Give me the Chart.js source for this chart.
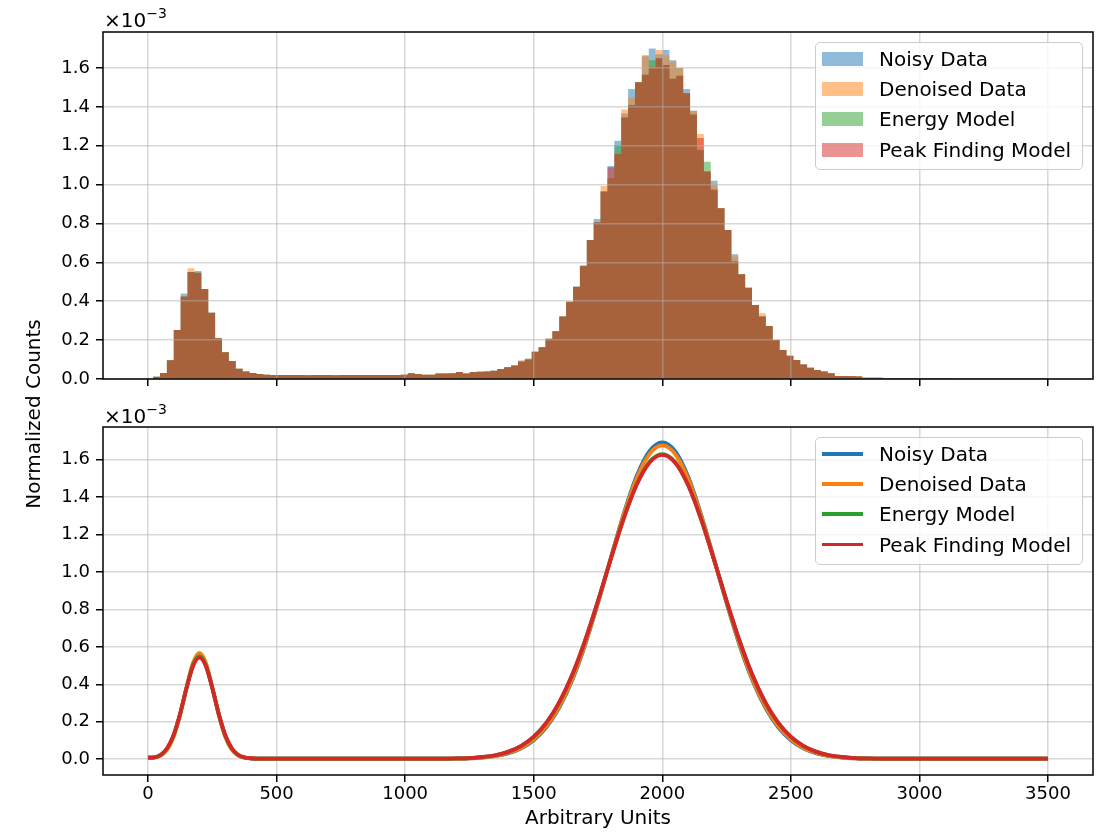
<!DOCTYPE html>
<html>
<head>
<meta charset="utf-8">
<script src="https://cdn.jsdelivr.net/npm/chart.js@4.4.1/dist/chart.umd.min.js"></script>
<style>
html,body{margin:0;padding:0;background:#fff;}
body{width:1100px;height:833px;position:relative;overflow:hidden;font-family:"DejaVu Sans",sans-serif;color:#000;}
.wrap{position:absolute;left:0;width:1100px;}
.legend{position:absolute;left:815px;width:268px;height:128px;box-sizing:border-box;border:1px solid #cccccc;border-radius:5px;background:rgba(255,255,255,0.8);}
.lg-item{position:absolute;left:0;width:266px;height:20px;}
.lg-patch{position:absolute;left:6px;top:3px;width:41px;height:14px;}
.lg-line{position:absolute;left:6px;top:8.1px;width:41px;height:3.8px;}
.lg-text{position:absolute;left:63px;top:0;font-size:20px;line-height:20px;white-space:nowrap;}
.offset{position:absolute;left:104px;font-size:20px;line-height:20px;white-space:nowrap;}
.offset .sup{font-size:14px;line-height:0;position:relative;top:-8.5px;}
.ylabel{position:absolute;left:-117px;top:404px;width:300px;height:20px;font-size:20px;line-height:20px;text-align:center;transform:rotate(-90deg);transform-origin:150px 10px;white-space:nowrap;}
.xlabel{position:absolute;left:448px;top:807px;width:300px;height:20px;font-size:20px;line-height:20px;text-align:center;white-space:nowrap;}
</style>
</head>
<body>
<div class="wrap" style="top:0;height:400px;"><canvas id="c1" width="1100" height="400"></canvas></div>
<div class="wrap" style="top:400px;height:433px;"><canvas id="c2" width="1100" height="433"></canvas></div>
<div class="offset" style="top:9.8px;">×10<span class="sup">−3</span></div>
<div class="offset" style="top:405.8px;">×10<span class="sup">−3</span></div>
<div class="ylabel">Normalized Counts</div>
<div class="xlabel">Arbitrary Units</div>
<div class="legend" id="lg1" style="top:42px;"></div>
<div class="legend" id="lg2" style="top:437px;"></div>
<script>
// ---------------- data (values in units of 1e-3) ----------------
const seriesNames = ['Noisy Data', 'Denoised Data', 'Energy Model', 'Peak Finding Model'];
const seriesColors = [[31,119,180], [255,127,14], [44,160,44], [214,39,40]];
const xTicks = [0, 500, 1000, 1500, 2000, 2500, 3000, 3500];
const yTicks = [0.0, 0.2, 0.4, 0.6, 0.8, 1.0, 1.2, 1.4, 1.6];
const yExponent = -3;
const binStart = 20;
const binWidth = 26.77;

const histNoisy = [
 0.012,0.031,0.096,0.252,0.440,0.550,0.556,0.463,0.341,0.209,
 0.137,0.093,0.053,0.038,0.031,0.026,0.022,0.021,0.020,0.020,
 0.020,0.020,0.019,0.020,0.020,0.020,0.019,0.020,0.020,0.021,
 0.020,0.020,0.021,0.020,0.021,0.021,0.022,0.029,0.026,0.022,
 0.022,0.028,0.028,0.029,0.036,0.028,0.036,0.037,0.038,0.043,
 0.052,0.060,0.070,0.089,0.100,0.140,0.163,0.207,0.245,0.321,
 0.398,0.475,0.581,0.715,0.823,0.964,1.096,1.225,1.366,1.492,
 1.527,1.660,1.700,1.670,1.693,1.640,1.600,1.492,1.380,1.178,
 1.067,1.020,0.878,0.767,0.642,0.539,0.470,0.381,0.321,0.273,
 0.201,0.149,0.120,0.098,0.075,0.058,0.046,0.039,0.029,0.016,
 0.015,0.014,0.013,0.007,0.006,0.006,0.005,0.005,0.005,0.005,
 0.004,0.004,0.004,0.004,0.004,0.004,0.003,0.003,0.003,0.003,
 0.003,0.003,0.003,0.003,0.003,0.003,0.003,0.003,0.003,0.003];
const histDenoised = [
 0.012,0.031,0.096,0.252,0.425,0.570,0.547,0.463,0.341,0.209,
 0.137,0.093,0.053,0.038,0.031,0.026,0.022,0.021,0.020,0.020,
 0.020,0.020,0.019,0.020,0.020,0.020,0.019,0.020,0.020,0.021,
 0.020,0.020,0.021,0.020,0.021,0.021,0.022,0.029,0.026,0.022,
 0.022,0.028,0.028,0.029,0.036,0.028,0.036,0.037,0.038,0.043,
 0.052,0.060,0.070,0.089,0.100,0.140,0.163,0.207,0.245,0.321,
 0.398,0.475,0.587,0.715,0.806,0.993,1.033,1.158,1.386,1.448,
 1.527,1.667,1.610,1.693,1.665,1.630,1.600,1.470,1.380,1.260,
 1.067,1.000,0.878,0.767,0.630,0.539,0.470,0.381,0.338,0.273,
 0.201,0.149,0.120,0.098,0.075,0.058,0.046,0.039,0.029,0.016,
 0.015,0.016,0.015,0.007,0.006,0.006,0.005,0.005,0.005,0.005,
 0.004,0.004,0.004,0.004,0.004,0.004,0.003,0.003,0.003,0.003,
 0.003,0.003,0.003,0.003,0.003,0.003,0.003,0.003,0.003,0.003];
const histEnergy = [
 0.012,0.031,0.096,0.252,0.425,0.550,0.547,0.463,0.341,0.209,
 0.137,0.093,0.053,0.038,0.031,0.026,0.022,0.021,0.020,0.020,
 0.020,0.020,0.019,0.020,0.020,0.020,0.019,0.020,0.020,0.021,
 0.020,0.020,0.021,0.020,0.021,0.021,0.022,0.029,0.026,0.022,
 0.022,0.028,0.028,0.029,0.036,0.028,0.036,0.037,0.038,0.043,
 0.052,0.060,0.070,0.089,0.105,0.140,0.163,0.207,0.245,0.321,
 0.398,0.475,0.581,0.715,0.806,0.964,1.033,1.204,1.345,1.410,
 1.527,1.565,1.640,1.650,1.615,1.545,1.560,1.470,1.360,1.178,
 1.118,0.974,0.878,0.767,0.604,0.539,0.470,0.381,0.321,0.273,
 0.201,0.149,0.120,0.098,0.075,0.058,0.046,0.039,0.029,0.016,
 0.015,0.014,0.013,0.007,0.006,0.006,0.005,0.005,0.005,0.005,
 0.004,0.004,0.004,0.004,0.004,0.004,0.003,0.003,0.003,0.003,
 0.003,0.003,0.003,0.003,0.003,0.003,0.003,0.003,0.003,0.003];
const histPeak = [
 0.012,0.031,0.096,0.252,0.425,0.550,0.547,0.463,0.341,0.209,
 0.137,0.093,0.053,0.038,0.031,0.026,0.022,0.021,0.020,0.020,
 0.020,0.020,0.019,0.020,0.020,0.020,0.019,0.020,0.020,0.021,
 0.020,0.020,0.021,0.020,0.021,0.021,0.022,0.029,0.026,0.022,
 0.022,0.028,0.028,0.029,0.036,0.028,0.036,0.037,0.038,0.043,
 0.052,0.060,0.070,0.095,0.100,0.140,0.163,0.207,0.245,0.321,
 0.398,0.475,0.581,0.715,0.806,0.964,1.089,1.158,1.345,1.410,
 1.527,1.565,1.600,1.650,1.615,1.545,1.560,1.470,1.360,1.240,
 1.067,0.974,0.878,0.767,0.604,0.539,0.470,0.381,0.321,0.273,
 0.201,0.149,0.120,0.098,0.075,0.058,0.046,0.039,0.029,0.016,
 0.015,0.016,0.013,0.007,0.006,0.006,0.005,0.005,0.005,0.005,
 0.004,0.004,0.004,0.004,0.004,0.004,0.003,0.003,0.003,0.003,
 0.003,0.003,0.003,0.003,0.003,0.003,0.003,0.003,0.003,0.003];

const curveX = [
 0,25,50,75,100,125,150,175,200,225,250,275,300,325,350,375,400,425,450,475,500,
 550,600,650,700,750,800,850,900,950,1000,1050,1100,1150,
 1200,1250,1300,1350,1400,1450,1500,1550,1600,1650,1700,1750,1800,1850,1900,1950,2000,
 2050,2100,2150,2200,2250,2300,2350,2400,2450,2500,2550,2600,2650,2700,2750,2800,
 2850,2900,2950,3000,3050,3100,3150,3200,3250,3300,3350,3400,3450,3500];
const curveNoisy = [
 0.008,0.010,0.022,0.057,0.127,0.241,0.382,0.504,0.553,0.504,0.382,0.241,0.127,0.057,0.022,0.009,0.004,0.003,0.003,0.003,0.003,
 0.003,0.003,0.003,0.003,0.003,0.003,0.003,0.003,0.003,0.003,0.003,0.003,0.003,
 0.003,0.005,0.009,0.016,0.031,0.057,0.101,0.172,0.277,0.423,0.611,0.834,1.076,1.311,1.511,1.645,1.692,
 1.645,1.511,1.311,1.076,0.834,0.611,0.423,0.277,0.172,0.101,0.057,0.031,0.016,0.009,0.005,0.003,
 0.003,0.003,0.003,0.003,0.003,0.003,0.003,0.003,0.003,0.003,0.003,0.003,0.003,0.003];
const curveDenoised = [
 0.008,0.009,0.020,0.052,0.121,0.237,0.385,0.515,0.568,0.515,0.385,0.237,0.121,0.052,0.020,0.008,0.004,0.003,0.003,0.003,0.003,
 0.003,0.003,0.003,0.003,0.003,0.003,0.003,0.003,0.003,0.003,0.003,0.003,0.003,
 0.003,0.005,0.009,0.017,0.033,0.060,0.106,0.178,0.284,0.430,0.617,0.837,1.075,1.305,1.500,1.630,1.676,
 1.630,1.500,1.305,1.075,0.837,0.617,0.430,0.284,0.178,0.106,0.060,0.033,0.017,0.009,0.005,0.003,
 0.003,0.003,0.003,0.003,0.003,0.003,0.003,0.003,0.003,0.003,0.003,0.003,0.003,0.003];
const curveEnergy = [
 0.008,0.010,0.023,0.058,0.128,0.242,0.382,0.503,0.551,0.503,0.382,0.242,0.128,0.058,0.023,0.009,0.004,0.003,0.003,0.003,0.003,
 0.003,0.003,0.003,0.003,0.003,0.003,0.003,0.003,0.003,0.003,0.003,0.003,0.003,
 0.004,0.006,0.011,0.021,0.039,0.070,0.119,0.195,0.304,0.451,0.634,0.846,1.071,1.287,1.467,1.588,1.630,
 1.588,1.467,1.287,1.071,0.846,0.634,0.451,0.304,0.195,0.119,0.070,0.039,0.021,0.011,0.006,0.004,
 0.003,0.003,0.003,0.003,0.003,0.003,0.003,0.003,0.003,0.003,0.003,0.003,0.003,0.003];
const curvePeak = [
 0.008,0.010,0.024,0.060,0.131,0.244,0.380,0.497,0.543,0.497,0.380,0.244,0.131,0.060,0.024,0.010,0.005,0.003,0.003,0.003,0.003,
 0.003,0.003,0.003,0.003,0.003,0.003,0.003,0.003,0.003,0.003,0.003,0.003,0.003,
 0.004,0.006,0.012,0.021,0.039,0.070,0.120,0.197,0.306,0.452,0.635,0.846,1.070,1.285,1.465,1.584,1.626,
 1.584,1.465,1.285,1.070,0.846,0.635,0.452,0.306,0.197,0.120,0.070,0.039,0.021,0.012,0.006,0.004,
 0.003,0.003,0.003,0.003,0.003,0.003,0.003,0.003,0.003,0.003,0.003,0.003,0.003,0.003];

// ---------------- chart building ----------------
const histSeries = [histNoisy, histDenoised, histEnergy, histPeak];
const curveSeries = [curveNoisy, curveDenoised, curveEnergy, curvePeak];
// bin left edges plus the closing right edge of the last bin
const binEdges = histNoisy.concat([null]).map((_, k) => binStart + binWidth * k);
const rgba = (c, a) => `rgba(${c[0]},${c[1]},${c[2]},${a})`;

const FONT = 'DejaVu Sans';
const gridColor = 'rgba(176,176,176,0.5)';
const tickFont = {family: FONT, size: 18, lineHeight: 1.2};

const framePlugin = {
  id: 'frame',
  afterDraw(chart) {
    const {ctx, chartArea: a} = chart;
    ctx.save();
    ctx.strokeStyle = '#000';
    ctx.lineWidth = 1.5;
    ctx.strokeRect(a.left, a.top, a.right - a.left, a.bottom - a.top);
    ctx.restore();
  }
};

function xScale(showLabels, axisHeight, gridZ) {
  return {
    type: 'linear', min: -175, max: 3675, offset: false,
    afterBuildTicks: s => { s.ticks = xTicks.map(v => ({value: v})); },
    afterFit: s => { s.height = axisHeight; },
    ticks: {display: showLabels, font: tickFont, color: '#000', padding: 2, maxRotation: 0, autoSkip: false,
            callback: v => String(v)},
    grid: {color: gridColor, lineWidth: 1.5, drawTicks: true, tickLength: 7, tickColor: '#000', tickWidth: 1.5, offset: false, z: gridZ},
    border: {display: false}
  };
}
function yScale(min, max, gridZ) {
  return {
    type: 'linear', min: min, max: max,
    afterBuildTicks: s => { s.ticks = yTicks.map(v => ({value: v})); },
    afterFit: s => { s.width = 103; },
    ticks: {font: tickFont, color: '#000', padding: 6, autoSkip: false, callback: v => v.toFixed(1)},
    grid: {color: gridColor, lineWidth: 1.5, drawTicks: true, tickLength: 7, tickColor: '#000', tickWidth: 1.5, z: gridZ},
    border: {display: false}
  };
}

// Top panel: histograms drawn as filled step outlines (value k spans [edge k, edge k+1])
new Chart(document.getElementById('c1'), {
  type: 'line',
  data: {
    datasets: seriesNames.map((name, i) => ({
      label: name,
      data: binEdges.map((x, k) => ({x: x, y: histSeries[i][Math.min(k, histSeries[i].length - 1)]})),
      stepped: 'before',
      fill: 'origin',
      backgroundColor: rgba(seriesColors[i], 0.5),
      borderColor: 'rgba(0,0,0,0)',
      borderWidth: 0,
      pointRadius: 0,
      tension: 0,
      order: 4 - i
    }))
  },
  options: {
    responsive: false, animation: false, maintainAspectRatio: false,
    layout: {padding: {left: 0, right: 7, top: 32, bottom: 0}},
    plugins: {legend: {display: false}, tooltip: {enabled: false}},
    scales: {x: xScale(false, 21, 1), y: yScale(0, 1.785, 1)}
  },
  plugins: [framePlugin]
});

new Chart(document.getElementById('c2'), {
  type: 'line',
  data: {
    datasets: seriesNames.map((name, i) => ({
      label: name,
      data: curveSeries[i].map((v, k) => ({x: curveX[k], y: v})),
      borderColor: rgba(seriesColors[i], 1),
      backgroundColor: rgba(seriesColors[i], 1),
      borderWidth: 3.8,
      pointRadius: 0,
      fill: false,
      cubicInterpolationMode: 'monotone',
      order: 4 - i
    }))
  },
  options: {
    responsive: false, animation: false, maintainAspectRatio: false,
    layout: {padding: {left: 0, right: 7, top: 27, bottom: 0}},
    plugins: {legend: {display: false}, tooltip: {enabled: false}},
    scales: {x: xScale(true, 58, -1), y: yScale(-0.0845, 1.7745, -1)}
  },
  plugins: [framePlugin]
});

// ---------------- legends ----------------
function buildLegend(id, kind) {
  const box = document.getElementById(id);
  const tops = [5.8, 35.8, 66.2, 96.5];
  seriesNames.forEach((name, i) => {
    const item = document.createElement('div');
    item.className = 'lg-item';
    item.style.top = tops[i] + 'px';
    const h = document.createElement('div');
    h.className = kind === 'patch' ? 'lg-patch' : 'lg-line';
    h.style.background = rgba(seriesColors[i], kind === 'patch' ? 0.5 : 1);
    const t = document.createElement('div');
    t.className = 'lg-text';
    t.textContent = name;
    item.appendChild(h); item.appendChild(t);
    box.appendChild(item);
  });
}
buildLegend('lg1', 'patch');
buildLegend('lg2', 'line');
</script>
</body>
</html>
